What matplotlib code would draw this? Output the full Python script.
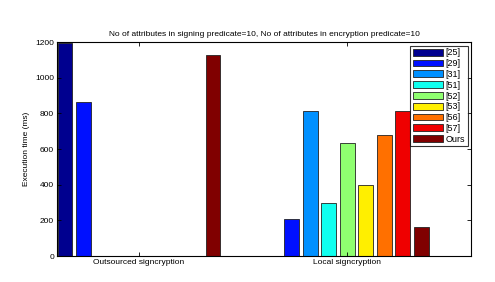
import numpy as np
import matplotlib
matplotlib.use("Agg")
import matplotlib.pyplot as plt

plt.rcParams['font.family'] = ['Liberation Sans', 'DejaVu Sans']

groups = ["Outsourced signcryption", "Local signcryption"]
schemes = ["[25]", "[29]", "[31]", "[51]", "[52]", "[53]", "[56]", "[57]", "Ours"]
outsourced = [1195, 865, 0, 0, 0, 0, 0, 0, 1125]
local = [0, 210, 815, 295, 635, 400, 680, 815, 165]
colors = ["#00008f", "#0010ff", "#0090ff", "#10ffef", "#8fff70", "#ffef00", "#ff7000", "#ef0000", "#800000"]
yticks = [0, 200, 400, 600, 800, 1000, 1200]

values = np.array([outsourced, local])

fig = plt.figure(figsize=(4.95, 2.82), dpi=100)
ax = fig.add_axes([0.115, 0.092, 0.837, 0.759])

n = len(schemes)
group_width = 0.8
step = group_width / n
bar_w = step * 0.8
x = np.arange(1, len(groups) + 1)

for i, name in enumerate(schemes):
    offs = -group_width / 2 + step * (i + 0.5)
    ax.bar(x + offs, values[:, i], bar_w, color=colors[i], edgecolor="#222222",
           linewidth=0.6, label=name)

ax.set_xlim(1 - 0.394, 2 + 0.596)
ax.set_ylim(0, 1200)
ax.set_xticks(x)
ax.set_xticklabels(groups, fontsize=6)
ax.set_yticks(yticks)
ax.set_yticklabels([str(v) for v in yticks], fontsize=6)
ax.tick_params(direction="in", top=True, right=True, length=3, width=0.6, pad=2)
for s in ax.spines.values():
    s.set_linewidth(0.8)

ax.set_ylabel("Execution time (ms)", fontsize=6, labelpad=4)
ax.set_title("No of attributes in signing predicate=10, No of attributes in encryption predicate=10",
             fontsize=6, pad=4)

leg = ax.legend(loc="upper right", fontsize=6.5, frameon=True, fancybox=False,
                edgecolor="black", handlelength=3.3, handleheight=0.8,
                handletextpad=0.3, labelspacing=0.2, borderpad=0.3,
                borderaxespad=0.4)
leg.get_frame().set_linewidth(0.8)

fig.savefig("out.png", dpi=100)
